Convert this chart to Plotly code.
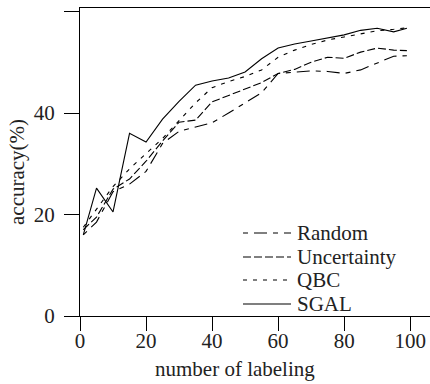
import plotly.graph_objects as go

# number of labeled samples
labels_n = [1, 5, 10, 15, 20, 25, 30, 35, 40, 45, 50, 55, 60, 65, 70, 75, 80, 85, 90, 95, 99]

# accuracy (%) per strategy
acc_random = [16, 18.5, 24.5, 26, 28.5, 34, 36.4, 37.3, 38.1, 40.0, 42.0, 44.0, 47.8, 48.0, 48.3, 48.2, 47.8, 48.5, 49.8, 51.2, 51.3]
acc_uncertainty = [17, 19.5, 25, 27, 30.5, 34.5, 38.2, 38.6, 42.2, 43.5, 44.7, 46.0, 47.8, 48.6, 50.0, 51.0, 50.8, 52.0, 52.8, 52.4, 52.3]
acc_qbc = [17.5, 21, 25.5, 29, 32, 35, 38.5, 42, 45, 46.2, 47.2, 48.5, 51, 52.4, 53.5, 54.4, 55, 55.6, 56.2, 56.5, 56.8]
acc_sgal = [16, 25.2, 20.5, 36, 34.3, 38.8, 42.3, 45.5, 46.3, 46.9, 48.1, 50.7, 52.8, 53.6, 54.2, 54.8, 55.4, 56.3, 56.7, 56.0, 56.7]

x_ticks = [0, 20, 40, 60, 80, 100]
y_ticks = [0, 20, 40, 60]

series = [
    ("Random", acc_random, "5px,6px,13px,6px"),
    ("Uncertainty", acc_uncertainty, "8px,3px"),
    ("QBC", acc_qbc, "4px,6px"),
    ("SGAL", acc_sgal, "solid"),
]

FONT = "Liberation Serif"
FS = 21
TXT = "#222"

fig = go.Figure()
for name, vals, dash in series:
    fig.add_trace(go.Scatter(
        x=labels_n, y=vals, mode="lines", name=name,
        line=dict(color="black", width=1.1, dash=dash),
        showlegend=False,
    ))

# legend drawn as samples + labels
leg_x0, leg_x1, leg_tx = (243 - 80) / 350, (291 - 80) / 350, (295 - 80) / 350
leg_rows = [233, 257, 280, 304]
for (name, _, dash), py in zip(series, leg_rows):
    yp = (316 - py) / 308
    fig.add_shape(type="line", xref="paper", yref="paper",
                  x0=leg_x0, x1=leg_x1, y0=yp, y1=yp,
                  line=dict(color="black", width=1.1, dash=dash))
    fig.add_annotation(xref="paper", yref="paper", x=leg_tx, y=yp,
                       text=name, showarrow=False, xanchor="left", yanchor="middle",
                       font=dict(family=FONT, size=FS, color=TXT))

# axis titles
fig.add_annotation(xref="paper", yref="paper", x=(235 - 80) / 350, y=(316 - 369) / 308,
                   text="number of labeling", showarrow=False,
                   xanchor="center", yanchor="middle",
                   font=dict(family=FONT, size=FS, color=TXT))
fig.add_annotation(xref="paper", yref="paper", x=(17 - 80) / 350, y=(316 - 172) / 308,
                   text="accuracy(%)", showarrow=False, textangle=-90,
                   xanchor="center", yanchor="middle",
                   font=dict(family=FONT, size=FS, color=TXT))

fig.update_layout(
    width=430, height=384,
    margin=dict(l=80, r=0, t=8, b=68),
    paper_bgcolor="white", plot_bgcolor="white",
    font=dict(family=FONT, size=FS, color=TXT),
    showlegend=False,
)
fig.update_xaxes(
    range=[0, 106], tickvals=x_ticks, ticktext=[str(v) for v in x_ticks],
    showgrid=False, zeroline=False,
    showline=True, linecolor="black", linewidth=1.2, mirror=True,
    ticks="outside", ticklen=14, tickwidth=1.2, tickcolor="black",
    ticklabelstandoff=-8,
)
fig.update_yaxes(
    range=[0, 60.7], tickvals=y_ticks, ticktext=[str(v) for v in y_ticks],
    showgrid=False, zeroline=False,
    showline=True, linecolor="black", linewidth=1.2,
    ticks="outside", ticklen=15, tickwidth=1.2, tickcolor="black",
    ticklabelstandoff=5,
)

fig.write_html("out.html")
